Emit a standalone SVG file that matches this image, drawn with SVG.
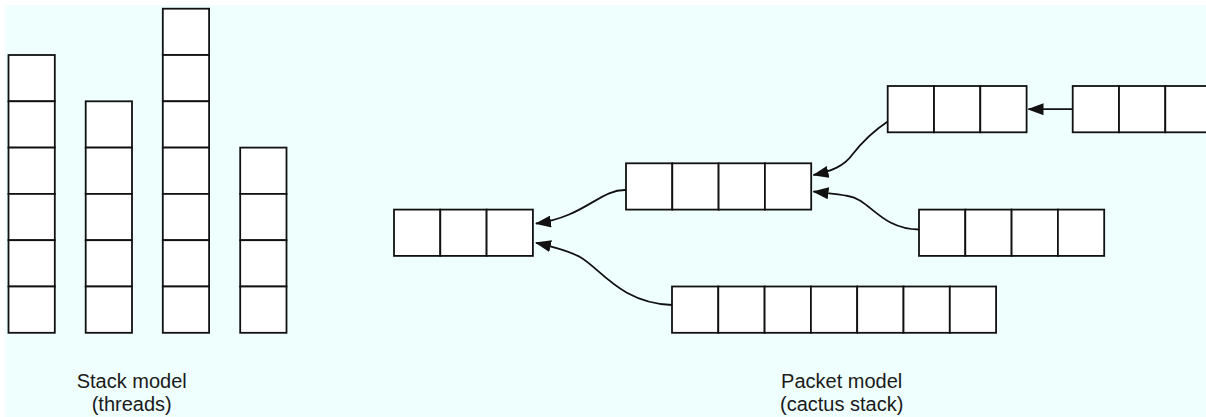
<svg xmlns="http://www.w3.org/2000/svg" width="1206" height="417" viewBox="0 0 1206 417">
  <style>
    .cell { fill: #ffffff; stroke: #111111; stroke-width: 1.8; }
    .edge { fill: none; stroke: #111111; stroke-width: 1.8; }
    .label { font-family: "Liberation Sans", Arial, Helvetica, sans-serif; font-size: 20px; fill: #1a1a1a; text-anchor: middle; }
  </style>
  <defs>
    <marker id="arrow" viewBox="0 0 16 12" refX="15" refY="6" markerWidth="16" markerHeight="12" markerUnits="userSpaceOnUse" orient="auto">
      <path d="M0,0 L16,6 L0,12 Z" fill="#111111"/>
    </marker>
    <!-- one stack frame -->
    <rect id="c" width="46.3" height="46.3" class="cell"/>
  </defs>

  <!-- backdrop -->
  <rect x="5" y="5" width="1201" height="412" fill="#eefffe"/>

  <!-- Stack model: one column of frames per thread -->
  <g id="stack-thread-1">
    <use href="#c" x="8.5" y="55"/>
    <use href="#c" x="8.5" y="101.3"/>
    <use href="#c" x="8.5" y="147.6"/>
    <use href="#c" x="8.5" y="193.9"/>
    <use href="#c" x="8.5" y="240.2"/>
    <use href="#c" x="8.5" y="286.5"/>
  </g>
  <g id="stack-thread-2">
    <use href="#c" x="85.7" y="101.3"/>
    <use href="#c" x="85.7" y="147.6"/>
    <use href="#c" x="85.7" y="193.9"/>
    <use href="#c" x="85.7" y="240.2"/>
    <use href="#c" x="85.7" y="286.5"/>
  </g>
  <g id="stack-thread-3">
    <use href="#c" x="162.8" y="8.7"/>
    <use href="#c" x="162.8" y="55"/>
    <use href="#c" x="162.8" y="101.3"/>
    <use href="#c" x="162.8" y="147.6"/>
    <use href="#c" x="162.8" y="193.9"/>
    <use href="#c" x="162.8" y="240.2"/>
    <use href="#c" x="162.8" y="286.5"/>
  </g>
  <g id="stack-thread-4">
    <use href="#c" x="240.2" y="147.6"/>
    <use href="#c" x="240.2" y="193.9"/>
    <use href="#c" x="240.2" y="240.2"/>
    <use href="#c" x="240.2" y="286.5"/>
  </g>

  <!-- Packet model: frame segments linked into a cactus stack -->
  <g id="packet-root">
    <use href="#c" x="394" y="209.6"/>
    <use href="#c" x="440.3" y="209.6"/>
    <use href="#c" x="486.6" y="209.6"/>
  </g>
  <g id="packet-mid">
    <use href="#c" x="626" y="163.3"/>
    <use href="#c" x="672.3" y="163.3"/>
    <use href="#c" x="718.6" y="163.3"/>
    <use href="#c" x="764.9" y="163.3"/>
  </g>
  <g id="packet-top">
    <use href="#c" x="887.7" y="86"/>
    <use href="#c" x="934" y="86"/>
    <use href="#c" x="980.3" y="86"/>
  </g>
  <g id="packet-top-right">
    <use href="#c" x="1072.7" y="86"/>
    <use href="#c" x="1119" y="86"/>
    <use href="#c" x="1165.3" y="86"/>
  </g>
  <g id="packet-right">
    <use href="#c" x="919" y="209.6"/>
    <use href="#c" x="965.3" y="209.6"/>
    <use href="#c" x="1011.6" y="209.6"/>
    <use href="#c" x="1057.9" y="209.6"/>
  </g>
  <g id="packet-bottom">
    <use href="#c" x="672" y="286.5"/>
    <use href="#c" x="718.3" y="286.5"/>
    <use href="#c" x="764.6" y="286.5"/>
    <use href="#c" x="810.9" y="286.5"/>
    <use href="#c" x="857.2" y="286.5"/>
    <use href="#c" x="903.5" y="286.5"/>
    <use href="#c" x="949.8" y="286.5"/>
  </g>

  <!-- parent links -->
  <g id="connectors">
    <path class="edge" marker-end="url(#arrow)" d="M1072.7,109.2 L1028.5,109.2"/>
    <path class="edge" marker-end="url(#arrow)" d="M887.7,121.5 C872,132 862,142 852,155 C844,166 832,171 813.5,175"/>
    <path class="edge" marker-end="url(#arrow)" d="M919,229.5 C880,229 870,199 848,196 C838,194 826,193 813.5,191.5"/>
    <path class="edge" marker-end="url(#arrow)" d="M626,190 C600,189 585,217 536,223.5"/>
    <path class="edge" marker-end="url(#arrow)" d="M672,305 C620,303 600,268 580,257 C568,250 550,246 536,242.8"/>
  </g>

  <g id="captions">
    <text class="label" x="131.7" y="387.5">Stack model</text>
    <text class="label" x="131.7" y="411">(threads)</text>
    <text class="label" x="841.7" y="387.5">Packet model</text>
    <text class="label" x="841.7" y="411">(cactus stack)</text>
  </g>
</svg>
